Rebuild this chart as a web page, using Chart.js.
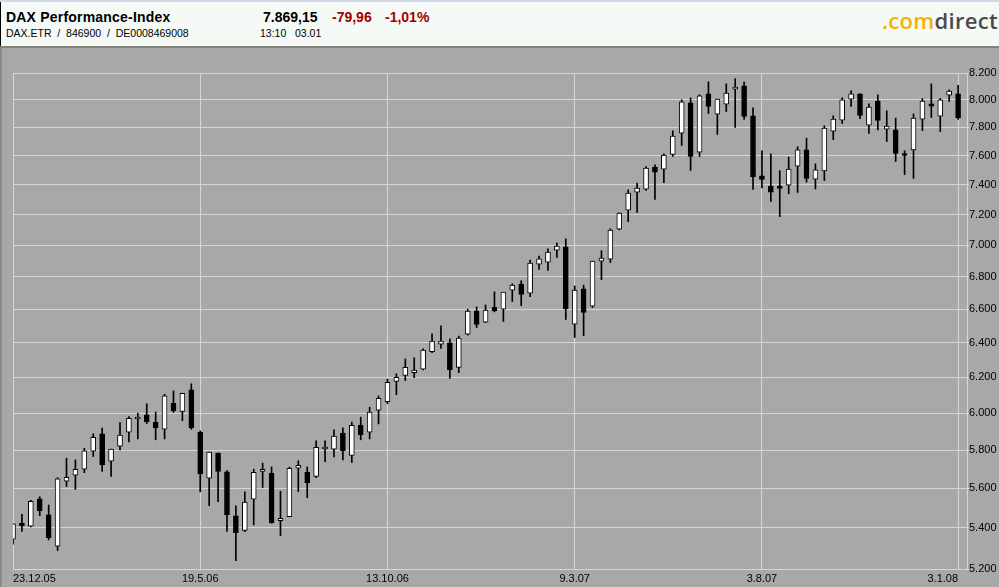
<!DOCTYPE html>
<html>
<head>
<meta charset="utf-8">
<script src="https://cdn.jsdelivr.net/npm/chart.js@4.4.1/dist/chart.umd.min.js"></script>
<style>
  body { margin: 0; width: 999px; height: 587px; overflow: hidden; background: #a8a8a8; font-family: "Liberation Sans", Arial, sans-serif; }
  #strip { position: absolute; left: 0; top: 0; width: 999px; height: 2px; background: #d3d7ea; }
  #header { position: absolute; left: 0; top: 2px; width: 998px; height: 44px; background: #f6faf6; border-left: 1px solid #000; }
  #header-line { position: absolute; left: 0; top: 46px; width: 999px; height: 2px; background: #84847a; }
  #panel { position: absolute; left: 0; top: 48px; width: 997px; height: 539px; background: #a8a8a8; border-left: 2px solid #8a8a8a; }
  .t { position: absolute; line-height: 1; white-space: pre; }
  canvas { position: absolute; left: 0; top: 48px; }
</style>
</head>
<body>
<div id="strip"></div>
<div id="header">
  <span class="t" style="left:5px; top:8px; font-size:14px; font-weight:bold; letter-spacing:0.2px;">DAX Performance-Index</span>
  <span class="t" style="left:5px; top:26px; font-size:10.5px;">DAX.ETR  /  846900  /  DE0008469008</span>
  <span class="t" style="left:262px; top:8px; font-size:14px; font-weight:bold;">7.869,15</span>
  <span class="t" style="left:331px; top:8px; font-size:14px; font-weight:bold; color:#a00000;">-79,96</span>
  <span class="t" style="left:384px; top:8px; font-size:14px; font-weight:bold; color:#a00000;">-1,01%</span>
  <span class="t" style="left:259px; top:26px; font-size:10.5px;">13:10   03.01</span>
  <span class="t" style="right:1px; top:7px; font-family:'Open Sans', sans-serif; font-size:22px; font-weight:600; letter-spacing:0.3px;"><span style="color:#f5b000;">.com</span><span style="color:#4a4a4a;">direct</span></span>
</div>
<div id="header-line"></div>
<div id="panel"></div>
<canvas id="daxChart" width="999" height="539"></canvas>
<script>
// Wochenkerzen DAX, 23.12.05 bis 3.1.08
const opens  = [5344,5423,5408,5546,5465,5310,5637,5668,5699,5794,5887,5741,5821,5896,5968,5991,5951,5912,6055,6009,
                6130,5896,5652,5784,5685,5460,5387,5544,5688,5678,5436,5456,5704,5683,5661,5806,5805,5891,5771,5934,
                5896,6017,6064,6177,6211,6228,6247,6349,6393,6400,6258,6452,6589,6523,6613,6601,6718,6755,6699,6880,
                6893,6969,6990,6511,6726,6620,6899,6912,7105,7230,7350,7371,7521,7507,7609,7760,7979,7625,8045,7896,
                7969,8080,8104,7884,7461,7391,7378,7398,7528,7642,7439,7494,7774,7853,8006,8045,7817,7991,7788,7783,
                7611,7640,7860,7971,7882,8035,8045];
const highs  = [5420,5468,5539,5557,5515,5655,5757,5748,5810,5887,5918,5805,5948,5981,6000,6052,6006,6105,6124,6111,
                6164,5903,5789,5784,5692,5510,5582,5699,5731,5711,5585,5710,5743,5711,5849,5849,5909,5920,5951,5978,
                6033,6096,6190,6221,6306,6313,6365,6453,6501,6424,6440,6601,6615,6627,6707,6705,6757,6776,6906,6931,
                6977,7016,7042,6743,6749,6899,6965,7107,7212,7366,7411,7525,7537,7614,7776,8001,8015,8038,8134,8006,
                8119,8157,8132,7942,7635,7614,7496,7591,7663,7724,7544,7812,7884,8015,8067,8045,7971,8038,7920,7867,
                7635,7898,8010,8119,8010,8074,8107];
const lows   = [5320,5382,5405,5461,5341,5289,5609,5595,5681,5766,5687,5661,5801,5844,5860,5943,5855,5860,6004,5959,
                5912,5582,5512,5532,5382,5240,5382,5415,5604,5423,5362,5456,5583,5552,5655,5739,5764,5748,5734,5855,
                5860,5941,6053,6102,6182,6199,6243,6343,6367,6194,6228,6446,6491,6520,6585,6527,6648,6623,6678,6846,
                6840,6922,6539,6432,6443,6611,6783,6890,7100,7154,7214,7361,7301,7415,7595,7672,7498,7595,7901,7750,
                7915,7800,7857,7368,7379,7287,7187,7339,7348,7418,7371,7429,7714,7828,7952,7864,7757,7783,7700,7560,
                7470,7443,7778,7872,7771,7988,7857];
const closes = [5420,5411,5534,5486,5352,5649,5657,5699,5796,5869,5723,5805,5880,5972,5972,5954,5921,6096,6013,6111,
                5921,5675,5789,5687,5466,5377,5529,5683,5690,5426,5448,5704,5720,5629,5815,5810,5875,5797,5934,5883,
                6006,6083,6173,6201,6258,6242,6358,6410,6410,6245,6428,6589,6509,6595,6591,6705,6749,6691,6887,6914,
                6956,6995,6605,6718,6581,6899,6918,7099,7210,7344,7377,7514,7487,7604,7738,7986,7595,8030,7952,8006,
                8050,8095,7879,7456,7436,7350,7376,7507,7642,7443,7502,7795,7860,8001,8045,7886,7947,7850,7810,7616,
                7602,7867,7991,7954,8001,8065,7869.15];

const xTickIndex  = [0, 21, 42, 63, 84, 106];
const xTickLabels = ['23.12.05', '19.5.06', '13.10.06', '9.3.07', '3.8.07', '3.1.08'];
const yTicks = [5200, 5400, 5600, 5800, 6000, 6200, 6400, 6600, 6800, 7000, 7200, 7400, 7600, 7800, 8000, 8200];

const gridColor = '#d6d6d6';

function formatDe(v) {
  return String(v).replace(/\B(?=(\d{3})+(?!\d))/g, '.');
}

const bodies = opens.map((o, i) => ({ x: i, y: [Math.min(o, closes[i]), Math.max(o, closes[i])] }));
const wicks  = lows.map((l, i) => ({ x: i, y: [l, highs[i]] }));

const ctx = document.getElementById('daxChart').getContext('2d');
const daxChart = new Chart(ctx, {
  type: 'bar',
  data: {
    datasets: [{
      // Kerzenkoerper
      data: bodies,
      order: 0,
      grouped: false,
      barThickness: 5,
      minBarLength: 2,
      borderWidth: 1,
      borderSkipped: false,
      borderColor: '#000',
      backgroundColor: c => closes[c.dataIndex] >= opens[c.dataIndex] ? '#ffffff' : '#000000'
    }, {
      // Dochte
      data: wicks,
      order: 1,
      grouped: false,
      barThickness: 1,
      borderWidth: 0,
      backgroundColor: '#000'
    }]
  },
  options: {
    responsive: false,
    animation: false,
    layout: { padding: { left: 13, top: 25, right: 0, bottom: 0 } },
    plugins: { legend: { display: false }, tooltip: { enabled: false } },
    scales: {
      x: {
        type: 'linear',
        min: 0,
        max: 107,
        offset: false,
        afterBuildTicks: s => { s.ticks = xTickIndex.map(v => ({ value: v })); },
        afterFit: s => { s.height = 18; },
        grid: { color: gridColor, offset: false, drawTicks: false, tickLength: 0 },
        border: { color: gridColor },
        ticks: {
          align: 'inner',
          padding: 3,
          color: '#000',
          font: { family: 'Liberation Sans', size: 11 },
          callback: (v) => xTickLabels[xTickIndex.indexOf(v)]
        }
      },
      y: {
        type: 'logarithmic',
        position: 'right',
        min: 5200,
        max: 8200,
        afterBuildTicks: s => { s.ticks = yTicks.map(v => ({ value: v })); },
        afterFit: s => { s.width = 32; },
        grid: { color: gridColor, tickLength: 2 },
        border: { color: gridColor },
        ticks: {
          padding: 0,
          color: '#000',
          font: { family: 'Liberation Sans', size: 11 },
          callback: v => formatDe(v)
        }
      }
    }
  }
});
</script>
</body>
</html>
